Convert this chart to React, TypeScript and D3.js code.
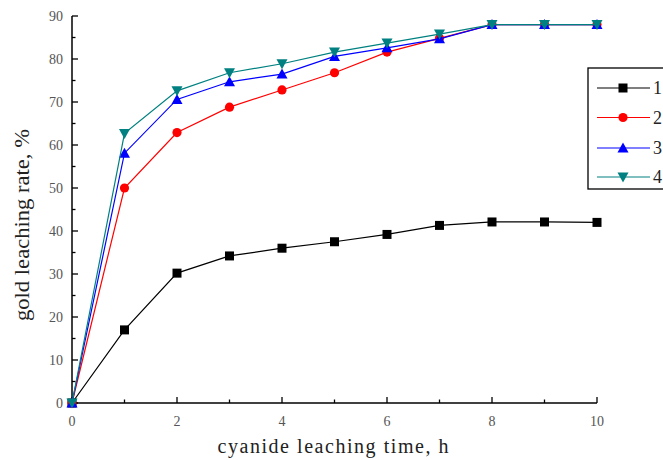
import React from "react";
import * as d3 from "d3";

const times = [0, 1, 2, 3, 4, 5, 6, 7, 8, 9, 10];
const series1 = [0, 17, 30.2, 34.2, 36, 37.5, 39.2, 41.3, 42.1, 42.1, 42];
const series2 = [0, 50, 62.9, 68.8, 72.8, 76.8, 81.6, 84.8, 88, 88, 88];
const series3 = [0, 58.1, 70.6, 74.7, 76.5, 80.6, 82.6, 84.7, 88, 88, 88];
const series4 = [0, 62.7, 72.6, 76.8, 78.9, 81.6, 83.7, 85.8, 88, 88, 88];
const seriesNames = ["1", "2", "3", "4"];
const seriesColors = ["#000000", "#ff0000", "#0000ff", "#008080"];
const seriesShapes = ["square", "circle", "triangleUp", "triangleDown"];
const xTicks = [0, 2, 4, 6, 8, 10];
const yTicks = [0, 10, 20, 30, 40, 50, 60, 70, 80, 90];
const xLabel = "cyanide leaching time, h";
const yLabel = "gold leaching rate, %";

const W = 663;
const H = 460;
const margin = { left: 72, right: 66, top: 16, bottom: 57 };

function Marker({ shape, x, y, color }: { shape: string; x: number; y: number; color: string }) {
  if (shape === "square") return <rect x={x - 4.5} y={y - 4.5} width={9} height={9} fill={color} />;
  if (shape === "circle") return <circle cx={x} cy={y} r={4.6} fill={color} />;
  if (shape === "triangleUp")
    return <path d={`M${x},${y - 5.5}L${x + 5.5},${y + 4.5}L${x - 5.5},${y + 4.5}Z`} fill={color} />;
  return <path d={`M${x},${y + 5.5}L${x + 5.5},${y - 4.5}L${x - 5.5},${y - 4.5}Z`} fill={color} />;
}

export default function App() {
  const x = d3.scaleLinear().domain([0, 10]).range([margin.left, W - margin.right]);
  const y = d3.scaleLinear().domain([0, 90]).range([H - margin.bottom, margin.top]);
  const all = [series1, series2, series3, series4];
  const line = d3
    .line<number>()
    .x((_, i) => x(times[i]))
    .y((d) => y(d));
  const font = "'Liberation Serif', 'Times New Roman', serif";
  const minorX = d3.range(0, 11, 1);
  const minorY = d3.range(0, 91, 5);
  const legendY = [88, 117.5, 148, 177];

  return (
    <svg width={W} height={H} style={{ position: "absolute", left: 0, top: 0 }} fontFamily={font}>
      <rect width={W} height={H} fill="#fff" />
      {/* axes */}
      <line x1={x(0)} x2={x(10)} y1={y(0)} y2={y(0)} stroke="#000" strokeWidth={1.5} />
      <line x1={x(0)} x2={x(0)} y1={y(0)} y2={y(90)} stroke="#000" strokeWidth={1.5} />
      {minorX.map((t) => (
        <line key={"xt" + t} x1={x(t)} x2={x(t)} y1={y(0)} y2={y(0) - (t % 2 === 0 ? 6 : 3.5)} stroke="#000" strokeWidth={1.3} />
      ))}
      {minorY.map((t) => (
        <line key={"yt" + t} x1={x(0)} x2={x(0) + (t % 10 === 0 ? 6 : 3.5)} y1={y(t)} y2={y(t)} stroke="#000" strokeWidth={1.3} />
      ))}
      {xTicks.map((t) => (
        <text key={"xl" + t} x={x(t)} y={y(0) + 23} textAnchor="middle" fontSize={14} fill="#555">
          {t}
        </text>
      ))}
      {yTicks.map((t) => (
        <text key={"yl" + t} x={x(0) - 9} y={y(t) + 5} textAnchor="end" fontSize={14} fill="#555">
          {t}
        </text>
      ))}
      <text x={333} y={453} textAnchor="middle" fontSize={20} fill="#222" textLength={231} lengthAdjust="spacing">
        {xLabel}
      </text>
      <text
        transform={`translate(29,${225}) rotate(-90)`}
        textAnchor="middle"
        fontSize={20}
        fill="#222"
        textLength={192}
        lengthAdjust="spacingAndGlyphs"
      >
        {yLabel}
      </text>
      {/* series */}
      {all.map((s, k) => (
        <g key={"s" + k}>
          <path d={line(s) || ""} fill="none" stroke={seriesColors[k]} strokeWidth={1.2} />
          {s.map((v, i) => (
            <Marker key={i} shape={seriesShapes[k]} x={x(times[i])} y={y(v)} color={seriesColors[k]} />
          ))}
        </g>
      ))}
      {/* legend */}
      <rect x={588} y={68} width={100} height={121} fill="#fff" stroke="#000" strokeWidth={1.3} />
      {seriesNames.map((n, k) => (
        <g key={"lg" + k}>
          <line x1={597} x2={650} y1={legendY[k]} y2={legendY[k]} stroke={seriesColors[k]} strokeWidth={1.2} />
          <Marker shape={seriesShapes[k]} x={623} y={legendY[k]} color={seriesColors[k]} />
          <text x={653} y={legendY[k] + 6} fontSize={18} fill="#222">
            {n}
          </text>
        </g>
      ))}
    </svg>
  );
}
